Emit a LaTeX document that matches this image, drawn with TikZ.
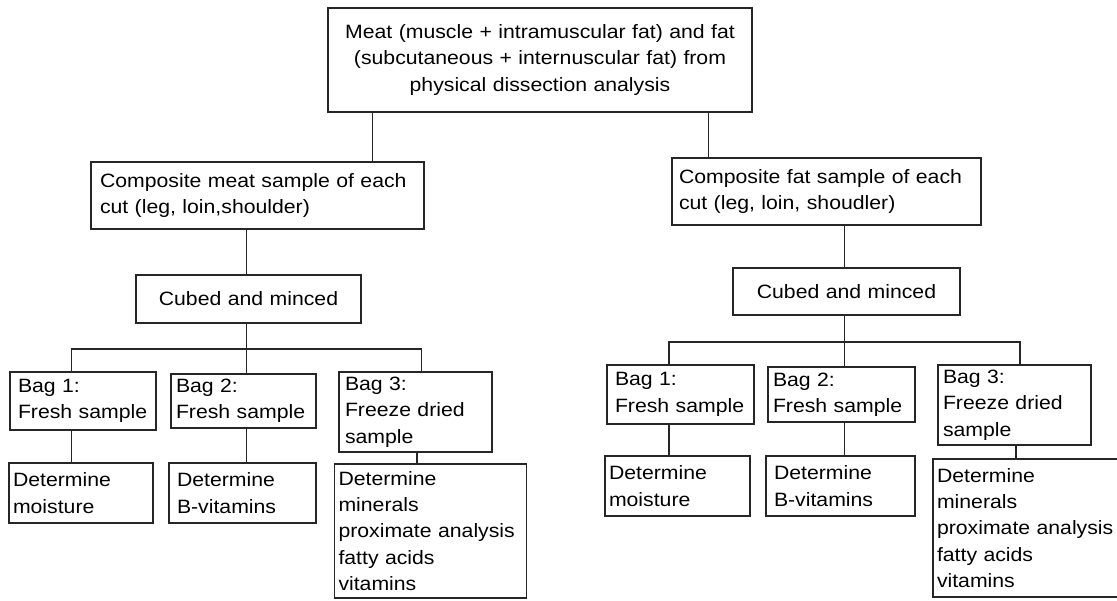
\documentclass[tikz,border=0pt]{standalone}
\usepackage{fontspec}
\setmainfont{Liberation Sans}[FakeStretch=1.1]
\begin{document}
\begin{tikzpicture}[x=1pt,y=-1pt,
  bx/.style={draw=black!85, line width=1.3pt, inner sep=0pt, align=left,
    font=\fontsize{19.3}{26.3}\selectfont},
  ln/.style={draw=black!85, line width=1.2pt}]
\useasboundingbox (0,0) rectangle (1117,601);
\newcommand{\bxn}[8]{%
  \node[bx, minimum width=#4, minimum height=#5, text width=#4-2*#6, #7] (#1) at (#2,#3) {#8};}
% top
\bxn{top}{540}{60}{424}{104}{16}{align=center}{Meat (muscle + intramuscular fat) and fat\\(subcutaneous + internuscular fat) from\\physical dissection analysis}
% meat side
\bxn{mc}{257.5}{195.5}{333}{67}{9}{}{Composite meat sample of each\\cut (leg, loin,shoulder)}
\bxn{mcub}{248.5}{299}{225}{48}{10}{align=center}{Cubed and minced}
\bxn{mb1}{83}{401}{146}{58}{8}{}{Bag 1:\\Fresh sample}
\bxn{mb2}{243.5}{401}{145}{54}{5}{}{Bag 2:\\Fresh sample}
\bxn{mb3}{415.5}{412}{153}{80}{6}{}{Bag 3:\\Freeze dried\\sample}
\bxn{md1}{81}{493}{144}{60}{4}{}{Determine\\moisture}
\bxn{md2}{242.5}{493}{147}{60}{8}{}{Determine\\B-vitamins}
\bxn{md3}{430.5}{531}{192}{134}{4}{}{Determine\\minerals\\proximate analysis\\fatty acids\\vitamins}
% fat side
\bxn{fc}{826.5}{191.5}{309}{67}{7}{}{Composite fat sample of each\\cut (leg, loin, shoudler)}
\bxn{fcub}{846.5}{291.5}{227}{47}{10}{align=center}{Cubed and minced}
\bxn{fb1}{680.5}{394.5}{147}{59}{8}{}{Bag 1:\\Fresh sample}
\bxn{fb2}{841.5}{394.5}{147}{55}{5}{}{Bag 2:\\Fresh sample}
\bxn{fb3}{1014.5}{405}{153}{80}{5}{}{Bag 3:\\Freeze dried\\sample}
\bxn{fd1}{677.5}{486}{145}{60}{4}{}{Determine\\moisture}
\bxn{fd2}{840.5}{486}{149}{60}{8}{}{Determine\\B-vitamins}
\bxn{fd3}{1029}{528}{192}{138}{4}{}{Determine\\minerals\\proximate analysis\\fatty acids\\vitamins}
% junctions
\coordinate (mj) at (246.8,349);
\coordinate (fj) at (844.6,342);
% connectors meat
\draw[ln] (top.south -| 372.5,0) -- (mc.north -| 372.5,0);
\draw[ln] (mc.south -| mj) -- (mcub.north -| mj);
\draw[ln] (mcub.south -| mj) -- (mj);
\draw[ln] (mb1.north -| 71.8,0) -- (mj -| 71.8,0) -- (mj -| 421.8,0) -- (mb3.north -| 421.8,0);
\draw[ln] (mj) -- (mb2.north -| mj);
\draw[ln] (mb1.south -| 71.8,0) -- (md1.north -| 71.8,0);
\draw[ln] (mb2.south -| mj) -- (md2.north -| mj);
\draw[ln] (mb3.south -| 417,0) -- (md3.north -| 417,0);
% connectors fat
\draw[ln] (top.south -| 708.6,0) -- (fc.north -| 708.6,0);
\draw[ln] (fc.south -| fj) -- (fcub.north -| fj);
\draw[ln] (fcub.south -| fj) -- (fj);
\draw[ln] (fb1.north -| 669,0) -- (fj -| 669,0) -- (fj -| 1020,0) -- (fb3.north -| 1020,0);
\draw[ln] (fj) -- (fb2.north -| fj);
\draw[ln] (fb1.south -| 669,0) -- (fd1.north -| 669,0);
\draw[ln] (fb2.south -| fj) -- (fd2.north -| fj);
\draw[ln] (fb3.south -| 1016,0) -- (fd3.north -| 1016,0);
\end{tikzpicture}
\end{document}
